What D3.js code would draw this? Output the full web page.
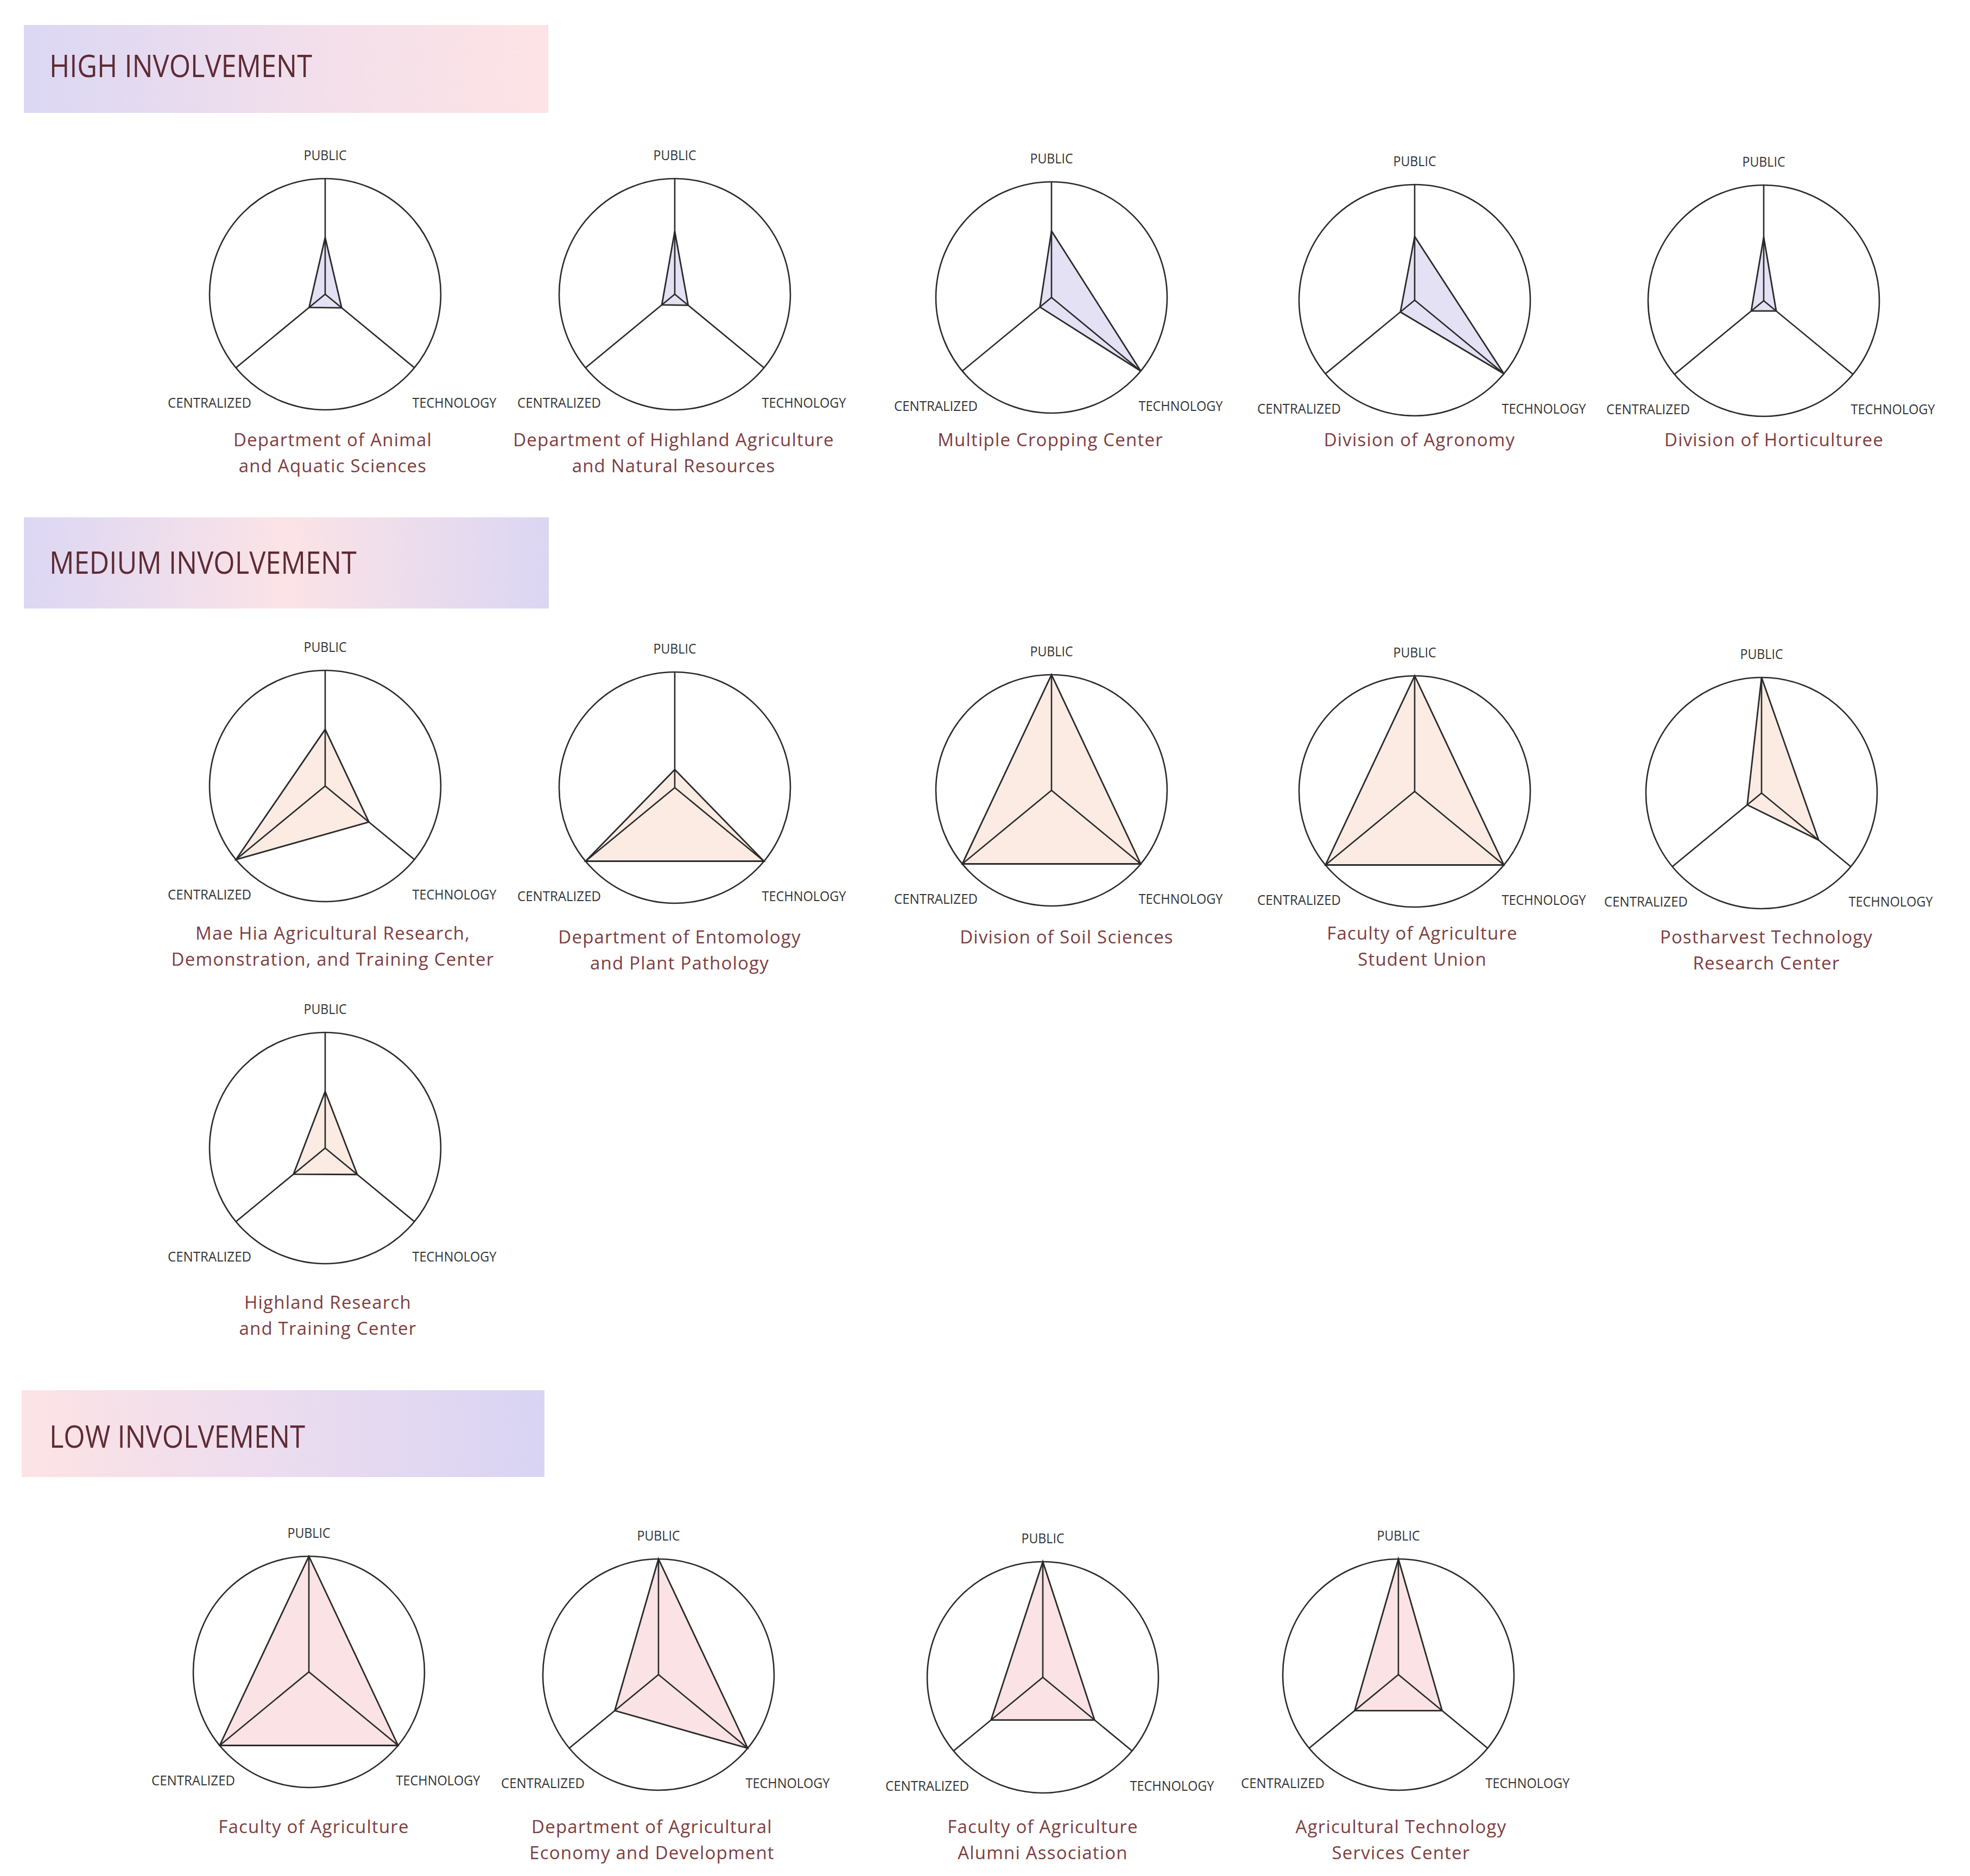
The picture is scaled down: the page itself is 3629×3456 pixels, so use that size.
<!DOCTYPE html>
<meta charset="utf-8">
<head>
  <title>Involvement radar charts</title>
</head>
<style>
body { margin: 0; background: #fff; }
.ring { fill: none; stroke: #2a2a2a; stroke-width: 2.6px; }
.spoke { stroke: #2a2a2a; stroke-width: 2.6px; }
.shape { stroke: #2a2a2a; stroke-width: 2.8px; stroke-linejoin: miter; }
.axis-label { font-family: "Open Sans", sans-serif; fill: #333; font-size: 25px; text-anchor: middle; }
.title { font-family: "Open Sans", sans-serif; fill: #7d3d3e; font-size: 33px; letter-spacing: 1.2px; text-anchor: middle; }
.band-text { font-family: "Open Sans", sans-serif; fill: #5e2b34; font-size: 56px; }
</style>
<body>

<script src="https://d3js.org/d3.v7.min.js"></script>
<script>

// axes of every chart, clockwise from the top
var axes = ["PUBLIC", "TECHNOLOGY", "CENTRALIZED"];
var axisWidths = [79, 155, 154];

var groups = ["HIGH INVOLVEMENT", "MEDIUM INVOLVEMENT", "LOW INVOLVEMENT"];

// names (lines of the caption) and values [public, technology, centralized], 0..1
var highNames = [
  ["Department of Animal", "and Aquatic Sciences"],
  ["Department of Highland Agriculture", "and Natural Resources"],
  ["Multiple Cropping Center"],
  ["Division of Agronomy"],
  ["Division of Horticulturee"]
];
var highValues = [
  [0.49, 0.185, 0.18],
  [0.545, 0.15, 0.145],
  [0.575, 1.0, 0.13],
  [0.55, 1.0, 0.16],
  [0.55, 0.14, 0.14]
];

var mediumNames = [
  ["Mae Hia Agricultural Research,", "Demonstration, and Training Center"],
  ["Department of Entomology", "and Plant Pathology"],
  ["Division of Soil Sciences"],
  ["Faculty of Agriculture", "Student Union"],
  ["Postharvest Technology", "Research Center"],
  ["Highland Research", "and Training Center"]
];
var mediumValues = [
  [0.49, 0.49, 1.0],
  [0.156, 1.0, 1.0],
  [1.0, 1.0, 1.0],
  [1.0, 1.0, 1.0],
  [1.0, 0.64, 0.16],
  [0.49, 0.36, 0.355]
];

var lowNames = [
  ["Faculty of Agriculture"],
  ["Department of Agricultural", "Economy and Development"],
  ["Faculty of Agriculture", "Alumni Association"],
  ["Agricultural Technology", "Services Center"]
];
var lowValues = [
  [1.0, 1.0, 1.0],
  [1.0, 1.0, 0.49],
  [1.0, 0.58, 0.58],
  [1.0, 0.49, 0.49]
];

// page layout: chart centre x, centre y, caption x shift, caption baseline
var highSlots = [[599, 542, 14, 822], [1243, 542, -2, 822], [1937, 548, -2, 822], [2606, 553, 9, 822], [3249, 554, 19, 822]];
var mediumSlots = [[599, 1448, 14, 1731], [1243, 1451, 9, 1738], [1937, 1456, 28, 1738], [2606, 1458, 14, 1731], [3245, 1461, 9, 1738], [599, 2115, 5, 2411]];
var lowSlots = [[569, 3080, 9, 3377], [1213, 3085, -12, 3377], [1921, 3090, 0, 3377], [2576, 3085, 5, 3377]];

var bands = [
  {y: 46, h: 162, x: 44, w: 966, textW: 484, base: 142, grad: "g-high", fill: "#e4e1f4"},
  {y: 953, h: 168, x: 44, w: 967, textW: 566, base: 1057, grad: "g-med", fill: "#fbebe3"},
  {y: 2561, h: 160, x: 40, w: 963, textW: 471, base: 2667, grad: "g-low", fill: "#fbe2e4"}
];

var R = 213;
var tilt = 39.5 * Math.PI / 180;
var angles = [0, Math.PI / 2 + tilt, 3 * Math.PI / 2 - tilt];
var r = d3.scaleLinear().domain([0, 1]).range([0, R]);

var svg = d3.select("body").append("svg")
    .attr("width", 3629)
    .attr("height", 3456)
    .style("background", "#fff");

// banner gradients
var defs = svg.append("defs");
function grad(id, stops) {
  var g = defs.append("linearGradient").attr("id", id)
      .attr("x1", "0%").attr("x2", "100%").attr("y1", "0%").attr("y2", "0%");
  stops.forEach(function(s) {
    g.append("stop").attr("offset", s[0]).attr("stop-color", s[1]);
  });
}
grad("g-high", [[0, "#dbd7f4"], [0.55, "#f3dfeb"], [1, "#fde3e5"]]);
grad("g-med", [[0, "#dcd7f4"], [0.5, "#fce3e6"], [1, "#dbd6f3"]]);
grad("g-low", [[0, "#fde3e5"], [0.5, "#ebdcef"], [1, "#d9d4f4"]]);

bands.forEach(function(b, i) {
  svg.append("rect")
      .attr("x", b.x).attr("y", b.y)
      .attr("width", b.w).attr("height", b.h)
      .attr("fill", "url(#" + b.grad + ")");
  svg.append("text")
      .attr("class", "band-text")
      .attr("x", 91).attr("y", b.base)
      .attr("textLength", b.textW)
      .attr("lengthAdjust", "spacingAndGlyphs")
      .text(groups[i]);
});

var shapeLine = d3.lineRadial()
    .angle(function(d, i) { return angles[i]; })
    .radius(function(d) { return r(d); })
    .curve(d3.curveLinearClosed);

// label offsets from the chart centre
var labelPos = [[0, -247], [238, 209], [-213, 209]];

function drawChart(slot, values, name, fill) {
  var g = svg.append("g")
      .attr("transform", "translate(" + slot[0] + "," + slot[1] + ")");

  g.append("path")
      .attr("class", "shape")
      .attr("fill", fill)
      .attr("d", shapeLine(values));

  g.selectAll(".spoke")
    .data(angles)
    .enter().append("line")
      .attr("class", "spoke")
      .attr("x1", 0).attr("y1", 0)
      .attr("x2", function(a) { return d3.pointRadial(a, r(1))[0]; })
      .attr("y2", function(a) { return d3.pointRadial(a, r(1))[1]; });

  g.append("circle")
      .attr("class", "ring")
      .attr("r", r(1));

  g.selectAll(".axis-label")
    .data(axes)
    .enter().append("text")
      .attr("class", "axis-label")
      .attr("x", function(d, i) { return labelPos[i][0]; })
      .attr("y", function(d, i) { return labelPos[i][1]; })
      .attr("textLength", function(d, i) { return axisWidths[i]; })
      .attr("lengthAdjust", "spacingAndGlyphs")
      .text(function(d) { return d; });

  var t = svg.append("text")
      .attr("class", "title")
      .attr("x", slot[0] + slot[2])
      .attr("y", slot[3]);
  name.forEach(function(line, k) {
    t.append("tspan")
        .attr("x", slot[0] + slot[2])
        .attr("dy", k === 0 ? 0 : 48)
        .text(line);
  });
}

highValues.forEach(function(v, i) { drawChart(highSlots[i], v, highNames[i], bands[0].fill); });
mediumValues.forEach(function(v, i) { drawChart(mediumSlots[i], v, mediumNames[i], bands[1].fill); });
lowValues.forEach(function(v, i) { drawChart(lowSlots[i], v, lowNames[i], bands[2].fill); });

</script>
</body>
